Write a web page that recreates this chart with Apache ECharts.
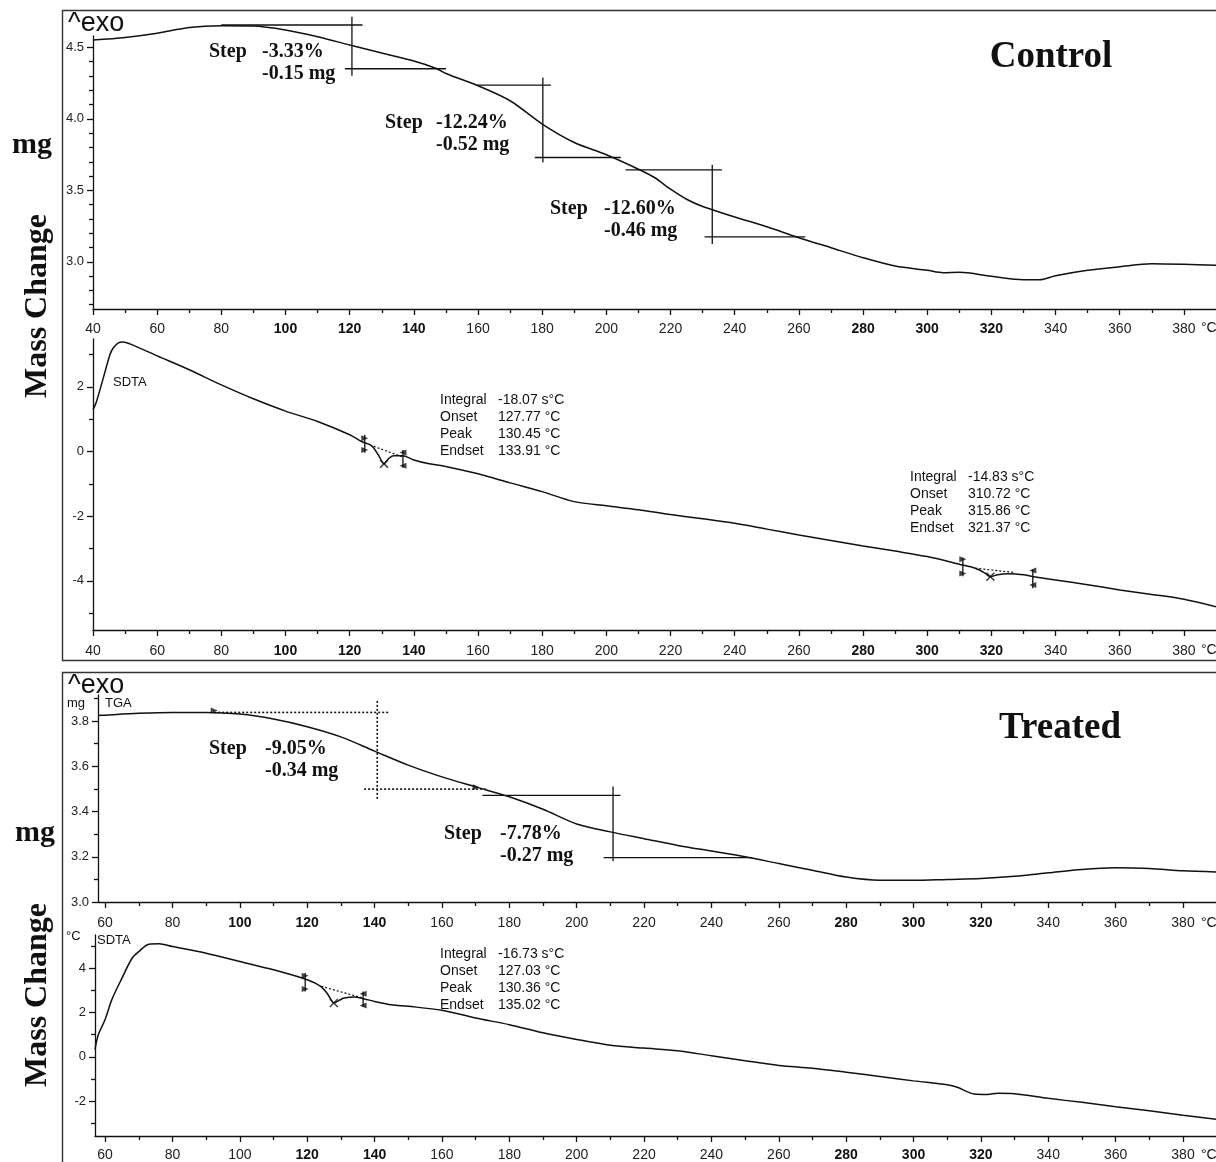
<!DOCTYPE html>
<html><head><meta charset="utf-8">
<script src="https://cdn.jsdelivr.net/npm/echarts@6/dist/echarts.min.js"></script>
<style>html,body{margin:0;padding:0;background:#fff}#c{width:1216px;height:1162px}</style>
</head><body><div id="c"></div>
<script>
// ---------------- DATA ----------------
// Control TGA (mass, mg) vs temperature (°C)
var ctrlTgaT = [40,50,60,70,80,90,100,110,120,130,140,147,150,160,170,180,190,200,210,215,220,225,230,240,250,260,270,280,290,300,305,310,320,330,335,340,350,360,370,380,390];
var ctrlTgaM = [4.552,4.57,4.60,4.64,4.652,4.65,4.622,4.575,4.517,4.461,4.405,4.353,4.318,4.232,4.127,3.964,3.835,3.749,3.648,3.59,3.508,3.438,3.387,3.314,3.246,3.169,3.099,3.029,2.971,2.941,2.924,2.927,2.899,2.875,2.875,2.903,2.941,2.966,2.987,2.983,2.976];
// Control SDTA (°C) vs temperature
var ctrlSdtaT = [40,41.1,43.2,45.3,46.3,47.9,49.4,51.5,60,70,80,90,100,110,120,123.7,126.8,128.9,130.7,132,133.6,136.5,140,144.8,149.9,160,170,180,190,200,210,220,230,240,250,260,270,280,290,300,311,315,318,319.7,322,325,330,333,340,350,360,370,380,390];
var ctrlSdtaV = [1.29,1.55,2.27,3.0,3.2,3.36,3.39,3.33,2.96,2.53,2.06,1.63,1.25,0.93,0.52,0.31,0.18,-0.1,-0.38,-0.23,-0.13,-0.13,-0.26,-0.38,-0.46,-0.69,-0.97,-1.24,-1.55,-1.68,-1.8,-1.95,-2.08,-2.22,-2.4,-2.58,-2.75,-2.92,-3.08,-3.25,-3.51,-3.61,-3.76,-3.87,-3.81,-3.78,-3.81,-3.87,-3.97,-4.12,-4.28,-4.42,-4.57,-4.8];
// Treated TGA
var treatTgaT = [57.9,60,70,80,90,100,110,120,130,140,150,160,170,180,190,200,210,220,230,240,250,260,270,280,290,300,310,320,330,340,350,360,370,380,390];
var treatTgaM = [3.824,3.826,3.834,3.838,3.838,3.831,3.809,3.775,3.73,3.667,3.605,3.553,3.509,3.465,3.41,3.345,3.31,3.28,3.25,3.225,3.2,3.17,3.14,3.11,3.096,3.096,3.10,3.104,3.114,3.129,3.144,3.151,3.148,3.138,3.133];
// Treated SDTA
var treatSdtaT = [57,58,60,62,65,68,70,73,76,80,90,100,110,120,124,126,128,129.5,131,134,137,140,145,150,160,170,180,190,200,210,220,230,240,250,260,270,280,290,300,310,313,318,322,325,330,340,350,360,370,380,390];
var treatSdtaV = [0.33,1.0,1.68,2.58,3.55,4.45,4.75,5.08,5.1,4.98,4.68,4.3,3.93,3.48,3.18,2.85,2.43,2.55,2.65,2.7,2.61,2.5,2.35,2.28,2.1,1.75,1.45,1.08,0.78,0.52,0.39,0.27,0.045,-0.18,-0.39,-0.52,-0.7,-0.89,-1.09,-1.27,-1.38,-1.68,-1.7,-1.65,-1.67,-1.88,-2.06,-2.26,-2.44,-2.64,-2.83];

// Step evaluation lines (temperature, mass)
var ctrlStepSegs = [
  [[80,4.657],[124,4.657]], [[120.7,4.715],[120.7,4.302]], [[118.5,4.351],[150,4.351]],
  [[159.6,4.237],[182.7,4.237]], [[180.2,4.29],[180.2,3.695]], [[177.7,3.73],[204.5,3.73]],
  [[206,3.644],[236,3.644]], [[233,3.679],[233,3.124]], [[230.6,3.174],[262,3.174]]
];
var treatStepDotted = [
  [[92.4,3.838],[144.3,3.838]], [[140.8,3.889],[140.8,3.452]], [[136.9,3.499],[173,3.499]]
];
var treatStepSolid = [
  [[172,3.471],[213,3.471]], [[210.8,3.51],[210.8,3.18]], [[208,3.196],[252,3.196]]
];
var treatStepFlags = [[92.4,3.846],[170.2,3.507]];

// SDTA peak evaluations: limits (temp, top, bottom), triangle marks, baseline, peak
var ctrlPeak1 = {left:[124.7,0.52,-0.04], leftMarks:[0.41,0.05], right:[136.6,0.05,-0.5], rightMarks:[-0.03,-0.44], base:[[127.5,0.16],[136.6,-0.17]], peak:[130.7,-0.38]};
var ctrlPeak2 = {left:[311.1,-3.28,-3.86], leftMarks:[-3.33,-3.77], right:[332.9,-3.64,-4.23], rightMarks:[-3.68,-4.13], base:[[315,-3.61],[327,-3.74]], peak:[319.7,-3.87]};
var treatPeak1 = {left:[119.4,3.78,2.95], leftMarks:[3.66,3.06], right:[136.6,2.95,2.25], rightMarks:[2.85,2.31], base:[[124.2,3.18],[136.6,2.65]], peak:[127.9,2.43]};

// Tick values
var ctrlTempTicks = [40,60,80,100,120,140,160,180,200,220,240,260,280,300,320,340,360,380];
var ctrlTempMinor = [50,70,90,110,130,150,170,190,210,230,250,270,290,310,330,350,370];
var treatTempTicks = [60,80,100,120,140,160,180,200,220,240,260,280,300,320,340,360,380];
var treatTempMinor = [70,90,110,130,150,170,190,210,230,250,270,290,310,330,350,370];
var ctrlBold = [100,120,140,280,300,320];
var treatTgaBold = [100,120,140,280,300,320];
var treatSdtaBold = [120,140,280,300,320];
var ctrlMassTicks = [3.0,3.5,4.0,4.5];
var ctrlMassMinor = [2.7,2.8,2.9,3.1,3.2,3.3,3.4,3.6,3.7,3.8,3.9,4.1,4.2,4.3,4.4];
var ctrlSdtaTicks = [-4,-2,0,2];
var ctrlSdtaMinor = [-5,-3,-1,1,3];
var treatMassTicks = [3.0,3.2,3.4,3.6,3.8];
var treatMassMinor = [3.1,3.3,3.5,3.7,3.9];
var treatSdtaTicks = [-2,0,2,4];
var treatSdtaMinor = [-3,-1,1,3,5];

// Annotation texts
var ctrlSteps = [["-3.33%","-0.15 mg"],["-12.24%","-0.52 mg"],["-12.60%","-0.46 mg"]];
var treatSteps = [["-9.05%","-0.34 mg"],["-7.78%","-0.27 mg"]];
var evalNames = ["Integral","Onset","Peak","Endset"];
var ctrlEval1 = ["-18.07 s°C","127.77 °C","130.45 °C","133.91 °C"];
var ctrlEval2 = ["-14.83 s°C","310.72 °C","315.86 °C","321.37 °C"];
var treatEval1 = ["-16.73 s°C","127.03 °C","130.36 °C","135.02 °C"];

// ---------------- CHART ----------------
var chart = echarts.init(document.getElementById('c'), null, {renderer:'canvas'});
var SANS = '"Liberation Sans", Arial, sans-serif';
var SERIF = '"Liberation Serif", "Times New Roman", serif';
var INK = '#111';

var grids = [
  {left:93, top:36, width:1123, height:273},
  {left:93, top:339, width:1123, height:291},
  {left:98, top:695, width:1118, height:207},
  {left:95, top:935, width:1121, height:202}
];
var xr = [[40,390],[40,390],[57.9,389.8],[57.0,389.8]];
var yr = [[2.67,4.58],[-5.52,3.48],[3.0,3.915],[-3.58,5.5]];
var xMaj = [ctrlTempTicks,ctrlTempTicks,treatTempTicks,treatTempTicks];
var xMin = [ctrlTempMinor,ctrlTempMinor,treatTempMinor,treatTempMinor];
var xBold = [ctrlBold,ctrlBold,treatTgaBold,treatSdtaBold];
var yMaj = [ctrlMassTicks,ctrlSdtaTicks,treatMassTicks,treatSdtaTicks];
var yMin = [ctrlMassMinor,ctrlSdtaMinor,treatMassMinor,treatSdtaMinor];
var yFmt = [1,0,1,0];
var xLabelMargin = [13,14,14,12];

var xAxes = [], yAxes = [];
for (var g=0; g<4; g++) {
  (function(g){
    xAxes.push({
      type:'value', gridIndex:g, min:xr[g][0], max:xr[g][1], position:'bottom',
      axisLine:{show:true, onZero:false, lineStyle:{color:INK,width:1.3}},
      axisTick:{show:true, customValues:xMaj[g], length:6, lineStyle:{color:INK,width:1.3}},
      splitLine:{show:false},
      axisLabel:{show:true, customValues:xMaj[g], margin:xLabelMargin[g], interval:0,
        formatter:function(v){ return xBold[g].indexOf(v)>=0 ? '{b|'+v+'}' : '{n|'+v+'}'; },
        rich:{b:{fontFamily:SANS,fontSize:14,fontWeight:'bold',color:INK}, n:{fontFamily:SANS,fontSize:14,color:'#222'}}}
    });
    xAxes.push({
      type:'value', gridIndex:g, min:xr[g][0], max:xr[g][1], position:'bottom',
      axisLine:{show:false, onZero:false},
      axisTick:{show:true, customValues:xMin[g], length:4, lineStyle:{color:INK,width:1.3}},
      splitLine:{show:false}, axisLabel:{show:false}
    });
    yAxes.push({
      type:'value', gridIndex:g, min:yr[g][0], max:yr[g][1], position:'left',
      axisLine:{show:true, onZero:false, lineStyle:{color:INK,width:1.3}},
      axisTick:{show:true, customValues:yMaj[g], length:6, lineStyle:{color:INK,width:1.3}},
      splitLine:{show:false},
      axisLabel:{show:true, customValues:yMaj[g], margin:9, fontFamily:SANS, fontSize:13, color:'#222',
        formatter:function(v){ return yFmt[g] ? v.toFixed(1) : String(v); }}
    });
    yAxes.push({
      type:'value', gridIndex:g, min:yr[g][0], max:yr[g][1], position:'left',
      axisLine:{show:false, onZero:false},
      axisTick:{show:true, customValues:yMin[g], length:4, lineStyle:{color:INK,width:1.3}},
      splitLine:{show:false}, axisLabel:{show:false}
    });
  })(g);
}

function zip(a,b){ var r=[]; for(var i=0;i<a.length;i++) r.push([a[i],b[i]]); return r; }
var series = [];
function curve(g, t, v){
  series.push({type:'line', xAxisIndex:2*g, yAxisIndex:2*g, data:zip(t,v), showSymbol:false, symbol:'none',
    smooth:0.3, clip:false, lineStyle:{color:INK,width:1.5}, z:5, silent:true});
}
function seg(g, pts, type, w){
  series.push({type:'line', xAxisIndex:2*g, yAxisIndex:2*g, data:pts, showSymbol:false, symbol:'none',
    clip:false, lineStyle:{color:INK,width:w||1.2,type:type||'solid'}, z:4, silent:true});
}
function marks(g, pts, rot, size){
  series.push({type:'scatter', xAxisIndex:2*g, yAxisIndex:2*g, data:pts, symbol:'triangle', symbolSize:size||[6,7],
    symbolRotate:rot, clip:false, itemStyle:{color:INK}, z:6, silent:true});
}
var XPATH = 'path://M0,1.2L1.2,0L5,3.8L8.8,0L10,1.2L6.2,5L10,8.8L8.8,10L5,6.2L1.2,10L0,8.8L3.8,5Z';
function peakEval(g, p){
  seg(g, [[p.left[0],p.left[1]],[p.left[0],p.left[2]]], 'solid', 1.3);
  seg(g, [[p.right[0],p.right[1]],[p.right[0],p.right[2]]], 'solid', 1.3);
  marks(g, [[p.left[0],p.leftMarks[0]],[p.left[0],p.leftMarks[1]]], -90, [6,7]);
  marks(g, [[p.right[0],p.rightMarks[0]],[p.right[0],p.rightMarks[1]]], 90, [6,7]);
  seg(g, p.base, [2,2], 1.2);
  series.push({type:'scatter', xAxisIndex:2*g, yAxisIndex:2*g, data:[p.peak], symbol:XPATH, symbolSize:9,
    clip:false, itemStyle:{color:INK}, z:6, silent:true});
}

curve(0, ctrlTgaT, ctrlTgaM);
curve(1, ctrlSdtaT, ctrlSdtaV);
curve(2, treatTgaT, treatTgaM);
curve(3, treatSdtaT, treatSdtaV);
ctrlStepSegs.forEach(function(s){ seg(0, s, 'solid', 1.3); });
treatStepDotted.forEach(function(s){ seg(2, s, [2,2], 1.6); });
treatStepSolid.forEach(function(s){ seg(2, s, 'solid', 1.3); });
marks(2, treatStepFlags, -90, [6,7]);
peakEval(1, ctrlPeak1);
peakEval(1, ctrlPeak2);
peakEval(3, treatPeak1);

// ---------------- TEXT ----------------
var G = [];
function txt(x, y, s, font, align, extra){
  var st = {text:s, font:font, fill:INK, textAlign:align||'left', textVerticalAlign:'middle'};
  if (extra) for (var k in extra) st[k]=extra[k];
  G.push({type:'text', x:x, y:y, style:st, z:100, silent:true});
}
// frames
G.push({type:'rect', shape:{x:62.5, y:10.5, width:1170, height:650}, style:{fill:'none', stroke:'#333', lineWidth:1.4}, z:1});
G.push({type:'rect', shape:{x:62.5, y:672.5, width:1170, height:520}, style:{fill:'none', stroke:'#333', lineWidth:1.4}, z:1});
// left titles
var bigSerif = 'bold 30px ' + SERIF;
txt(32, 145, 'mg', bigSerif, 'center');
G.push({type:'text', x:38, y:306, rotation:Math.PI/2, style:{text:'Mass Change', font:'bold 32px '+SERIF, fill:INK, textAlign:'center', textVerticalAlign:'middle'}, z:100});
txt(35, 833, 'mg', bigSerif, 'center');
G.push({type:'text', x:38, y:995, rotation:Math.PI/2, style:{text:'Mass Change', font:'bold 32px '+SERIF, fill:INK, textAlign:'center', textVerticalAlign:'middle'}, z:100});
// panel titles
txt(1051, 57, 'Control', 'bold 37px '+SERIF, 'center');
txt(1060, 728, 'Treated', 'bold 37px '+SERIF, 'center');
// ^exo
txt(68, 24, '^exo', '27px '+SANS, 'left');
txt(68, 686, '^exo', '27px '+SANS, 'left');
// small labels
txt(113, 382, 'SDTA', '13px '+SANS, 'left');
txt(67, 703, 'mg', '13px '+SANS, 'left');
txt(105, 703, 'TGA', '13px '+SANS, 'left');
txt(66, 936, '°C', '13px '+SANS, 'left');
txt(97, 940, 'SDTA', '13px '+SANS, 'left');
// unit °C on x axes
[328, 650, 923, 1155].forEach(function(y){ txt(1201, y, '°C', '14px '+SANS, 'left'); });
// step texts
var stepFont = 'bold 20px ' + SERIF;
function stepText(x, y, vals, dx){
  txt(x, y, 'Step', stepFont, 'left');
  txt(x+dx, y, vals[0], stepFont, 'left');
  txt(x+dx, y+22, vals[1], stepFont, 'left');
}
stepText(209, 52, ctrlSteps[0], 53);
stepText(385, 123, ctrlSteps[1], 51);
stepText(550, 209, ctrlSteps[2], 54);
stepText(209, 749, treatSteps[0], 56);
stepText(444, 834, treatSteps[1], 56);
// evaluation blocks
function evalBlock(x, y, vals){
  for (var i=0;i<4;i++){
    txt(x, y+i*17, evalNames[i], '14px '+SANS, 'left');
    txt(x+58, y+i*17, vals[i], '14px '+SANS, 'left');
  }
}
evalBlock(440, 400, ctrlEval1);
evalBlock(910, 477, ctrlEval2);
evalBlock(440, 954, treatEval1);

chart.setOption({
  animation:false,
  backgroundColor:'#fff',
  grid:grids.map(function(g){ g.containLabel=false; return g; }),
  xAxis:xAxes, yAxis:yAxes, series:series, graphic:G
});
</script></body></html>
